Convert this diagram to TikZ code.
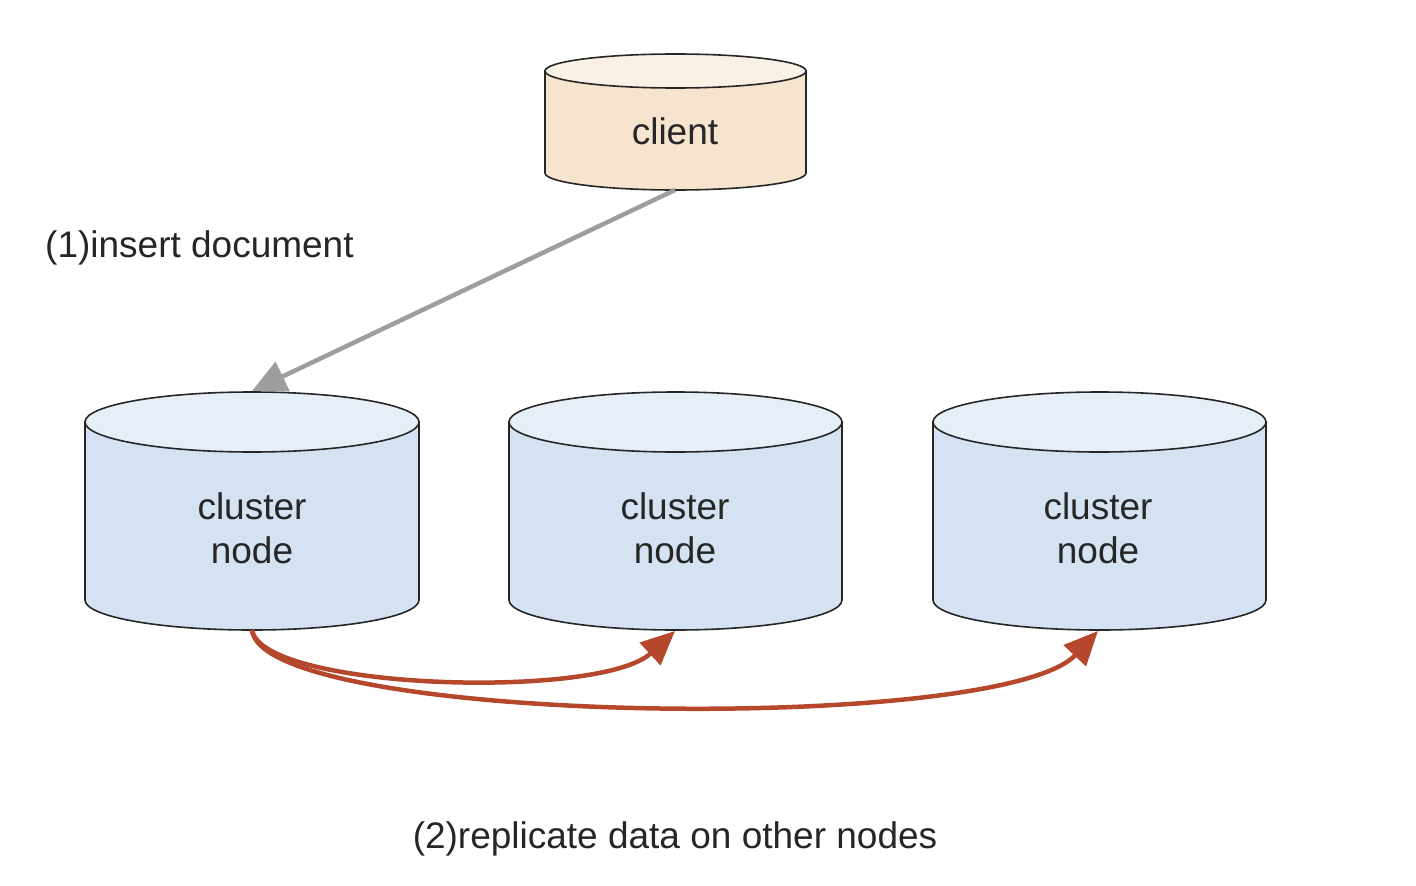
\documentclass[tikz,border=0pt]{standalone}
\usepackage{fontspec}
\setmainfont{Liberation Sans}
\usetikzlibrary{arrows.meta}
\definecolor{blbody}{HTML}{D5E2F2}
\definecolor{bltop}{HTML}{E6EEF8}
\definecolor{clbody}{HTML}{F6E4CF}
\definecolor{cltop}{HTML}{FAF1E6}
\definecolor{redarr}{HTML}{B5472C}
\definecolor{grayarr}{HTML}{9E9E9E}
\newcommand{\drawcyl}[6]{%
  \pgfmathsetmacro{\crx}{(#2-#1)/2}%
  \filldraw[fill=#6body, cylline] (#1,#3) -- (#1,#4) arc[start angle=180,end angle=360,x radius=\crx pt,y radius=#5 pt] -- (#2,#3) -- cycle;
  \filldraw[fill=#6top, cylline] (#1+\crx,#3) ellipse[x radius=\crx pt, y radius=#5 pt];
}
\begin{document}
\begin{tikzpicture}[x=1pt,y=-1pt,
  cylline/.style={draw=black!85, line width=1.6pt},
  lbl/.style={font=\fontsize{37}{44}\selectfont, text=black!85, align=center, inner sep=0pt},
  grayline/.style={draw=grayarr, line width=4.5pt, -{Triangle[length=34pt,width=32pt]}},
  redline/.style={draw=redarr, line width=4.5pt, -{Triangle[length=34pt,width=30pt]}}]
\useasboundingbox (0,0) rectangle (1416,886);
% cylinders
\drawcyl{545}{806}{71}{173}{17}{cl}
\drawcyl{85}{419}{422}{600}{30}{bl}
\drawcyl{509}{842}{422}{600}{30}{bl}
\drawcyl{933}{1266}{422}{600}{30}{bl}
% text nodes
\node[lbl] (client) at (675,131) {client};
\node[lbl] (n1) at (252,528) {cluster\\node};
\node[lbl] (n2) at (675,528) {cluster\\node};
\node[lbl] (n3) at (1098,528) {cluster\\node};
\coordinate (clientbot) at (675,190);
\coordinate (n1top) at (252,391);
\coordinate (n1bot) at (252,630);
\coordinate (n2bot) at (675,631);
\coordinate (n3bot) at (1098,631);
% connectors
\draw[grayline] (clientbot) -- (n1top);
\draw[redline] (n1bot) .. controls (262,690) and (600,700) .. (n2bot);
\draw[redline] (n1bot) .. controls (262,725) and (1000,735) .. (n3bot);
% labels
\node[lbl, anchor=west] (lab1) at (45,248) {(1)insert document};
\node[lbl] (lab2) at (675,839) {(2)replicate data on other nodes};
\end{tikzpicture}
\end{document}
